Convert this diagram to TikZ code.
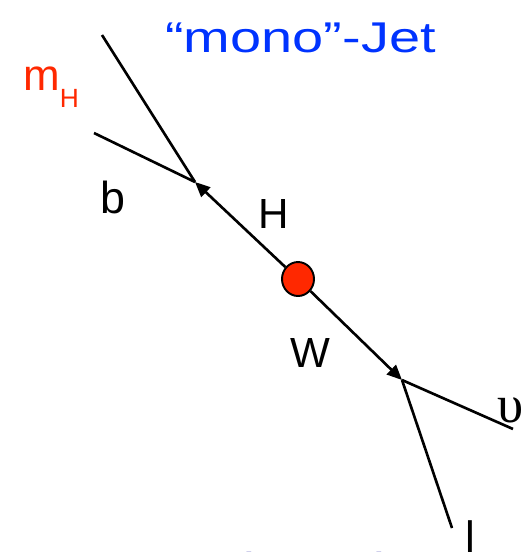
\documentclass[tikz,border=0pt]{standalone}
\usepackage{fontspec}
\setmainfont{Liberation Sans}
\newfontfamily\widesans[FakeStretch=1.3]{Liberation Sans}
\newfontfamily\greekserif{Liberation Serif}
\usepackage{xcolor}
\definecolor{jetblue}{RGB}{0,51,255}
\definecolor{refblue}{RGB}{0,0,150}
\definecolor{higgsred}{RGB}{255,40,0}
\usetikzlibrary{arrows.meta, shapes.geometric}

\begin{document}
\begin{tikzpicture}[
    x=0.02cm, y=-0.02cm,
    lbl/.style={anchor=base west, inner sep=0pt, font=\fontsize{24}{28}\selectfont},
    fline/.style={line width=1.5pt, black},
    farr/.style={fline, -{Triangle[length=0.3cm, width=0.26cm]}},
    blob/.style={ellipse, draw=black, line width=1.1pt, fill=higgsred,
                 minimum width=0.64cm, minimum height=0.68cm, inner sep=0pt},
]
\useasboundingbox (0,0) rectangle (525,552);
\clip (0,0) rectangle (525,552);

% vertices
\coordinate (jtop) at (102,35);
\coordinate (bend) at (94,133);
\coordinate (vH) at (195,182);
\node[blob] (hw) at (298,279) {};
\coordinate (vW) at (402,380);
\coordinate (nuend) at (513,429);
\coordinate (lend) at (452,528);

% lines
\draw[fline] (jtop) -- (vH);
\draw[fline] (bend) -- (vH);
\draw[farr] (hw) -- (vH);
\draw[farr] (hw) -- (vW);
\draw[fline] (vW) -- (nuend);
\draw[fline] (vW) -- (lend);

% labels
\node[lbl, font=\widesans\fontsize{24.5}{29}\selectfont, text=jetblue] (title) at (165,52) {“mono”-Jet};
\node[lbl, font=\fontsize{25}{29}\selectfont, text=higgsred] (mh) at (23,90) {m\raisebox{-10pt}{\fontsize{15}{17}\selectfont H}};
\node[lbl, font=\fontsize{25.5}{29}\selectfont] (blbl) at (100,213) {b};
\node[lbl] (hlbl) at (258.5,228) {H};
\node[lbl] (wlbl) at (290,367) {W};
\node[lbl, font=\greekserif\fontsize{30}{34}\selectfont] (nulbl) at (497,422) {υ};
\node[lbl, font=\fontsize{25}{29}\selectfont] (llbl) at (465,552) {l};
\node[anchor=base east, inner sep=0pt, font=\widesans\fontsize{24.5}{29}\selectfont, text=refblue] (ref) at (396,583) {PRL 100, 242001 (2008)};

\end{tikzpicture}
\end{document}
